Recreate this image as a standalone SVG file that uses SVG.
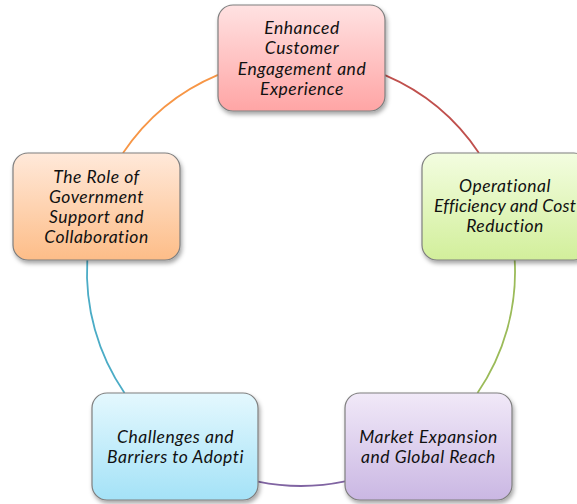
<svg xmlns="http://www.w3.org/2000/svg" width="577" height="504" viewBox="0 0 577 504">
<style>
.box{stroke:#7f7f7f;stroke-width:1.2;filter:url(#sh)}
.lbl{font-family:Lato,"Liberation Sans",sans-serif;font-style:italic;font-size:17.5px;letter-spacing:0.5px;fill:#111;text-anchor:middle}
.arc{fill:none;stroke-width:1.8}
</style>
<defs>
<filter id="sh" x="-10%" y="-10%" width="130%" height="130%"><feDropShadow dx="1.5" dy="3" stdDeviation="2" flood-color="#000" flood-opacity="0.35"/></filter>
<linearGradient id="gRed" x1="0" y1="0" x2="0" y2="1"><stop offset="0" stop-color="#ffe2e2"/><stop offset="1" stop-color="#ffa5a5"/></linearGradient>
<linearGradient id="gGreen" x1="0" y1="0" x2="0" y2="1"><stop offset="0" stop-color="#f3fde0"/><stop offset="1" stop-color="#d2ef9b"/></linearGradient>
<linearGradient id="gOrange" x1="0" y1="0" x2="0" y2="1"><stop offset="0" stop-color="#ffe9da"/><stop offset="1" stop-color="#fdbd88"/></linearGradient>
<linearGradient id="gBlue" x1="0" y1="0" x2="0" y2="1"><stop offset="0" stop-color="#e4f8fe"/><stop offset="1" stop-color="#a4e2f7"/></linearGradient>
<linearGradient id="gPurple" x1="0" y1="0" x2="0" y2="1"><stop offset="0" stop-color="#f1e9f8"/><stop offset="1" stop-color="#cab7e3"/></linearGradient>
</defs>
<g id="connectors">
<path class="arc" stroke="#c0504d" d="M385,75.2 A214,214 0 0 1 478.9,153"/>
<path class="arc" stroke="#9bbb59" d="M514.7,260 A214,214 0 0 1 477.5,393"/>
<path class="arc" stroke="#8064a2" d="M345,481.4 A214,214 0 0 1 258,481.6"/>
<path class="arc" stroke="#4bacc6" d="M124.5,393 A214,214 0 0 1 87.3,260"/>
<path class="arc" stroke="#f79646" d="M123,153 A214,214 0 0 1 218,74.8"/>
</g>
<g id="n1">
<rect class="box" x="218" y="5" width="167" height="106" rx="15" fill="url(#gRed)"/>
<text class="lbl" x="302" y="33.5">Enhanced</text>
<text class="lbl" x="302" y="54">Customer</text>
<text class="lbl" x="302" y="74.5">Engagement and</text>
<text class="lbl" x="302" y="95">Experience</text>
</g>
<g id="n2">
<rect class="box" x="422" y="153" width="167" height="107" rx="15" fill="url(#gGreen)"/>
<text class="lbl" x="505" y="191.7">Operational</text>
<text class="lbl" x="505" y="212" style="letter-spacing:0.2px">Efficiency and Cost</text>
<text class="lbl" x="505" y="232.3">Reduction</text>
</g>
<g id="n3">
<rect class="box" x="345" y="393" width="167" height="107" rx="15" fill="url(#gPurple)"/>
<text class="lbl" x="428.5" y="442.7">Market Expansion</text>
<text class="lbl" x="428.5" y="462.5">and Global Reach</text>
</g>
<g id="n4">
<rect class="box" x="92" y="393" width="166" height="107" rx="15" fill="url(#gBlue)"/>
<text class="lbl" x="175.5" y="442.7">Challenges and</text>
<text class="lbl" x="175.5" y="462.5">Barriers to Adopti</text>
</g>
<g id="n5">
<rect class="box" x="13" y="153" width="167" height="107" rx="15" fill="url(#gOrange)"/>
<text class="lbl" x="96.5" y="183.3">The Role of</text>
<text class="lbl" x="96.5" y="203.3">Government</text>
<text class="lbl" x="96.5" y="223">Support and</text>
<text class="lbl" x="96.5" y="243">Collaboration</text>
</g>
</svg>
